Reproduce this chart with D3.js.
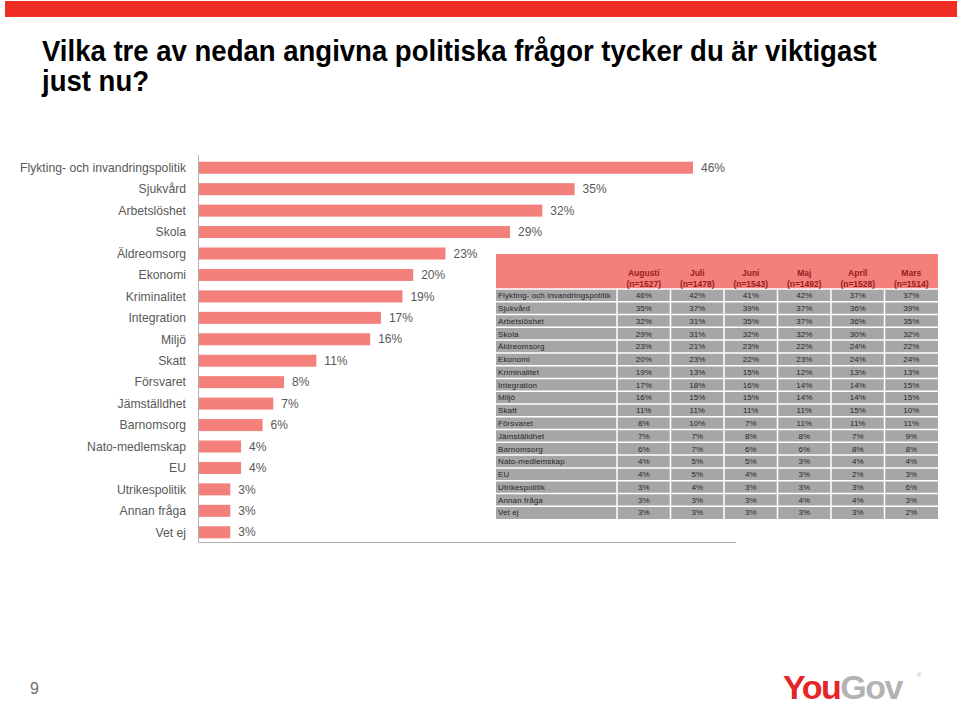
<!DOCTYPE html>
<html>
<head>
<meta charset="utf-8">
<script src="https://cdn.jsdelivr.net/npm/d3@7"></script>
<style>
  body { margin: 0; background: #fff; }
  svg { display: block; }
</style>
</head>
<body>
<svg width="960" height="706"></svg>
<script>
var categories = ["Flykting- och invandringspolitik", "Sjukvård", "Arbetslöshet", "Skola", "Äldreomsorg",
    "Ekonomi", "Kriminalitet", "Integration", "Miljö", "Skatt", "Försvaret", "Jämställdhet",
    "Barnomsorg", "Nato-medlemskap", "EU", "Utrikespolitik", "Annan fråga", "Vet ej"];

var months = ["Augusti", "Juli", "Juni", "Maj", "April", "Mars"];
var sampleSizes = ["(n=1527)", "(n=1478)", "(n=1543)", "(n=1492)", "(n=1528)", "(n=1514)"];

var augusti = [46, 35, 32, 29, 23, 20, 19, 17, 16, 11, 8, 7, 6, 4, 4, 3, 3, 3];
var juli    = [42, 37, 31, 31, 21, 23, 13, 18, 15, 11, 10, 7, 7, 5, 5, 4, 3, 3];
var juni    = [41, 39, 35, 32, 23, 22, 15, 16, 15, 11, 7, 8, 6, 5, 4, 3, 3, 3];
var maj     = [42, 37, 37, 32, 22, 23, 12, 14, 14, 11, 11, 8, 6, 3, 3, 3, 4, 3];
var april   = [37, 36, 36, 30, 24, 24, 13, 14, 14, 15, 11, 7, 8, 4, 2, 3, 4, 3];
var mars    = [37, 39, 35, 32, 22, 24, 13, 15, 15, 10, 11, 9, 8, 4, 3, 6, 3, 2];

var titleLines = ["Vilka tre av nedan angivna politiska frågor tycker du är viktigast", "just nu?"];

var series = [augusti, juli, juni, maj, april, mars];

var svg = d3.select("svg");
var BAR = "#f3807a";
var GREY_TEXT = "#595959";
var SANS = "'Liberation Sans', Arial, sans-serif";

// top red band
svg.append("rect")
    .attr("x", 5).attr("y", 1)
    .attr("width", 952).attr("height", 16)
    .attr("fill", "#ee2d24");

// title: Calibri-like look, so squeeze a bold sans horizontally to the original width
var t1 = svg.append("text")
    .attr("font-family", SANS).attr("font-weight", "bold").attr("font-size", 29)
    .text(titleLines[0]);
var sx = 835 / t1.node().getComputedTextLength();
t1.attr("transform", "translate(42,61) scale(" + sx + ",1)");
svg.append("text")
    .attr("font-family", SANS).attr("font-weight", "bold").attr("font-size", 29)
    .attr("transform", "translate(42,91) scale(" + sx + ",1)")
    .text(titleLines[1]);

// bar chart
var x = d3.scaleLinear().domain([0, 50]).range([198, 736]);
var y = d3.scaleBand().domain(categories).range([157, 543]).paddingInner(0.44).paddingOuter(0.22);

var rows = categories.map(function(c, i) { return { name: c, value: augusti[i] }; });

svg.append("g")
    .selectAll("rect")
    .data(rows)
    .enter()
    .append("rect")
    .attr("x", x(0))
    .attr("y", function(d) { return y(d.name); })
    .attr("width", function(d) { return x(d.value) - x(0); })
    .attr("height", y.bandwidth())
    .attr("fill", BAR);

// axis lines (left + bottom)
svg.append("path")
    .attr("d", "M" + (x(0) + 0.5) + "," + 155 + "V" + 542.5 + "H" + x(50))
    .attr("fill", "none")
    .attr("stroke", "#b0b0b0")
    .attr("stroke-width", 1);

svg.append("g")
    .attr("font-family", SANS)
    .attr("font-size", 12.2)
    .attr("fill", GREY_TEXT)
    .attr("text-anchor", "end")
    .selectAll("text")
    .data(categories)
    .enter()
    .append("text")
    .attr("x", 186)
    .attr("y", function(d) { return y(d) + y.bandwidth() / 2; })
    .attr("dy", "0.35em")
    .text(function(d) { return d; });

svg.append("g")
    .attr("font-family", SANS)
    .attr("font-size", 12)
    .attr("fill", GREY_TEXT)
    .selectAll("text")
    .data(rows)
    .enter()
    .append("text")
    .attr("x", function(d) { return x(d.value) + 8; })
    .attr("y", function(d) { return y(d.name) + y.bandwidth() / 2; })
    .attr("dy", "0.35em")
    .text(function(d) { return d.value + "%"; });

// table
var tLeft = 496, tLabelRight = 617, tRight = 938, tHeadTop = 254, tBodyTop = 289, tBottom = 519;
var col = d3.scaleBand().domain(months).range([tLabelRight, tRight]);
var row = d3.scaleBand().domain(categories).range([tBodyTop, tBottom]);

var table = svg.append("g").attr("font-family", SANS);

table.append("rect")
    .attr("x", tLeft).attr("y", tHeadTop)
    .attr("width", tRight - tLeft).attr("height", tBodyTop - tHeadTop)
    .attr("fill", BAR);

table.append("rect")
    .attr("x", tLeft).attr("y", tBodyTop)
    .attr("width", tRight - tLeft).attr("height", tBottom - tBodyTop)
    .attr("fill", "#a6a6a6");

// white grid lines
table.append("g")
    .selectAll("line")
    .data(categories)
    .enter()
    .append("line")
    .attr("x1", tLeft).attr("x2", tRight)
    .attr("y1", function(d) { return row(d); })
    .attr("y2", function(d) { return row(d); })
    .attr("stroke", "#fff")
    .attr("stroke-width", 1.5);

table.append("g")
    .selectAll("line")
    .data(months)
    .enter()
    .append("line")
    .attr("x1", function(d) { return col(d); })
    .attr("x2", function(d) { return col(d); })
    .attr("y1", tBodyTop).attr("y2", tBottom)
    .attr("stroke", "#fff")
    .attr("stroke-width", 1.5);

var head = table.append("g")
    .attr("font-size", 8.5)
    .attr("font-weight", "bold")
    .attr("fill", "#9a1d1d")
    .attr("text-anchor", "middle");

head.selectAll("text.m")
    .data(months)
    .enter()
    .append("text")
    .attr("class", "m")
    .attr("x", function(d) { return col(d) + col.bandwidth() / 2; })
    .attr("y", 276)
    .text(function(d) { return d; });

head.selectAll("text.n")
    .data(sampleSizes)
    .enter()
    .append("text")
    .attr("class", "n")
    .attr("x", function(d, i) { return col(months[i]) + col.bandwidth() / 2; })
    .attr("y", 287)
    .text(function(d) { return d; });

var body = table.append("g")
    .attr("font-size", 8)
    .attr("fill", "#262626");

body.selectAll("text.lab")
    .data(categories)
    .enter()
    .append("text")
    .attr("class", "lab")
    .attr("x", tLeft + 2)
    .attr("y", function(d) { return row(d) + row.bandwidth() / 2; })
    .attr("dy", "0.36em")
    .attr("letter-spacing", 0.12)
    .text(function(d) { return d; });

series.forEach(function(vals, j) {
    body.append("g")
        .attr("text-anchor", "middle")
        .selectAll("text")
        .data(vals)
        .enter()
        .append("text")
        .attr("x", col(months[j]) + col.bandwidth() / 2)
        .attr("y", function(d, i) { return row(categories[i]) + row.bandwidth() / 2; })
        .attr("dy", "0.36em")
        .text(function(d) { return d + "%"; });
});

// page number
svg.append("text")
    .attr("x", 30).attr("y", 694)
    .attr("font-family", SANS)
    .attr("font-size", 16)
    .attr("fill", "#6f6f6f")
    .text("9");

// logo
var logo = svg.append("text")
    .attr("x", 783).attr("y", 699)
    .attr("font-family", SANS)
    .attr("font-weight", "bold")
    .attr("font-size", 34)
    .attr("letter-spacing", -1.5);
logo.append("tspan").attr("fill", "#e4262b").text("You");
logo.append("tspan").attr("fill", "#b3b3b3").text("Gov");

svg.append("text")
    .attr("x", 917).attr("y", 677)
    .attr("font-family", SANS)
    .attr("font-size", 6)
    .attr("fill", "#b3b3b3")
    .text("®");
</script>
</body>
</html>
